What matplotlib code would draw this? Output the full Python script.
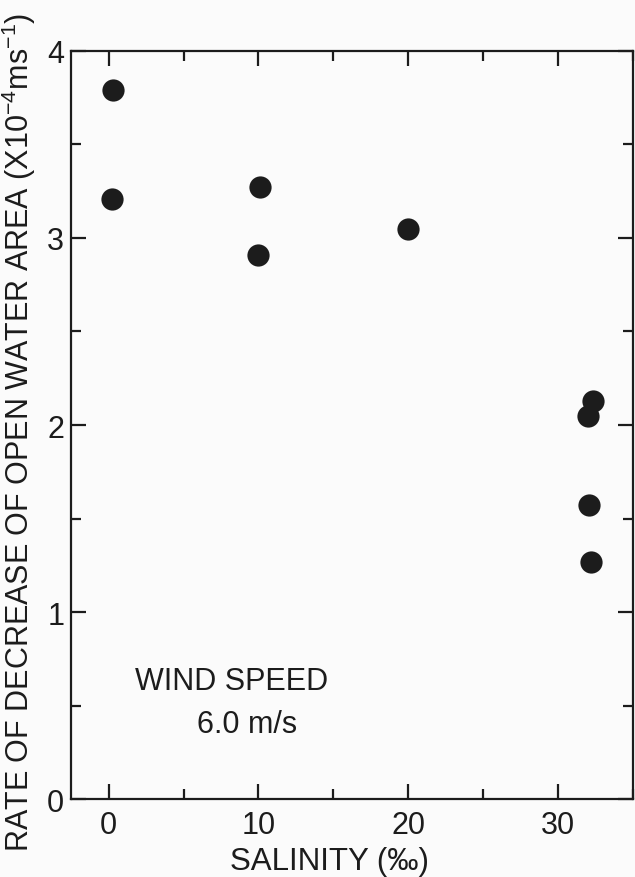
import matplotlib
matplotlib.use('Agg')
import matplotlib.pyplot as plt
from matplotlib.ticker import MultipleLocator

salinity = [0.3, 0.25, 10.1, 10.0, 20.0, 32.3, 32.0, 32.05, 32.2]
rate = [3.79, 3.21, 3.27, 2.91, 3.05, 2.13, 2.05, 1.57, 1.27]

plt.rcParams['font.family'] = ['Liberation Sans', 'DejaVu Sans']
plt.rcParams['mathtext.default'] = 'regular'

ink = '#1c1c1c'

fig = plt.figure(figsize=(6.35, 8.78), dpi=100)
fig.patch.set_facecolor('#fbfbfb')
ax = fig.add_axes([0.112, 0.0888, 0.885, 0.852])
ax.set_facecolor('#fbfbfb')

ax.plot(salinity, rate, 'o', color=ink, markersize=16, markeredgewidth=0)

ax.set_xlim(-2.5, 35)
ax.set_ylim(0, 4)
ax.xaxis.set_major_locator(MultipleLocator(10))
ax.xaxis.set_minor_locator(MultipleLocator(5))
ax.yaxis.set_major_locator(MultipleLocator(1))
ax.yaxis.set_minor_locator(MultipleLocator(0.5))

for s in ax.spines.values():
    s.set_linewidth(1.6)
    s.set_color(ink)

ax.tick_params(which='both', direction='in', top=True, right=True,
               colors=ink, labelsize=22, width=1.6)
ax.tick_params(which='major', length=11, pad=5)
ax.tick_params(which='minor', length=7)
ax.tick_params(axis='x', which='major', labeltop=False, pad=8)

ax.text(1.77, 0.588, 'WIND SPEED', fontsize=22, color=ink)
ax.text(5.9, 0.358, '6.0 m/s', fontsize=22, color=ink)

fig.text(330 / 635, 1 - 862 / 878, 'SALINITY (\u2030)', fontsize=22.5,
         color=ink, ha='center', va='center')
fig.text(19 / 635, 1 - 432 / 878,
         'RATE OF DECREASE OF OPEN WATER AREA (X10$^{-4}$ms$^{-1}$)',
         fontsize=22, color=ink, rotation=90, ha='center', va='center')

fig.savefig('out.png', dpi=100, facecolor=fig.get_facecolor())
